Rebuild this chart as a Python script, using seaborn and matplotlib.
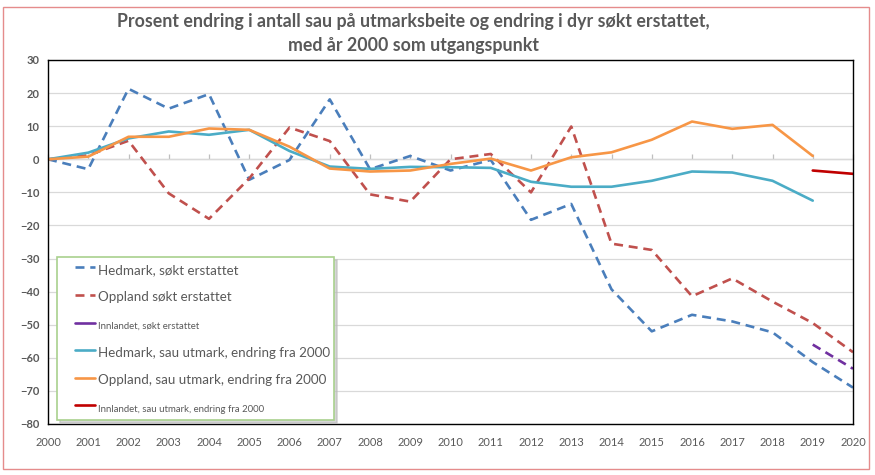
import matplotlib
matplotlib.use("Agg")
import matplotlib.pyplot as plt
import seaborn as sns
import pandas as pd
import numpy as np
from matplotlib.lines import Line2D
from matplotlib.legend_handler import HandlerLine2D
from matplotlib.patches import Rectangle

years = list(range(2000, 2021))

hedmark_sokt = [0, -3, 21.3, 15.3, 19.7, -6.2, -0.2, 18.1, -3, 1, -3.4, -0.2,
                -18.3, -13.5, -39.3, -52, -47, -49, -52.3, -61.3, -69]
oppland_sokt = [0, 1.2, 5.6, -10.3, -18, -5.8, 9.6, 5.5, -10.6, -12.8, 0, 1.6,
                -10, 9.9, -25.5, -27.4, -41.4, -36, -43, -49.5, -58.3]
innlandet_sokt = [np.nan] * 19 + [-56, -63.3]
hedmark_sau = [0, 2, 6.3, 8.4, 7.4, 8.9, 2.5, -2.2, -2.9, -2.3, -2.4, -2.6,
               -6.8, -8.3, -8.3, -6.5, -3.7, -4, -6.5, -12.5, np.nan]
oppland_sau = [0, 0.8, 6.8, 6.8, 9.3, 8.9, 3.8, -2.8, -3.7, -3.4, -1.4, 0.2,
               -3.4, 0.6, 2.1, 5.9, 11.4, 9.2, 10.4, 1, np.nan]
innlandet_sau = [np.nan] * 19 + [-3.4, -4.4]

labels = ["Hedmark, søkt erstattet", "Oppland søkt erstattet", "Innlandet, søkt erstattet",
          "Hedmark, sau utmark, endring fra 2000", "Oppland, sau utmark, endring fra 2000",
          "Innlandet, sau utmark, endring fra 2000"]
values = [hedmark_sokt, oppland_sokt, innlandet_sokt, hedmark_sau, oppland_sau, innlandet_sau]
colors = ["#4A7EBB", "#C0504D", "#7030A0", "#4BACC6", "#F79646", "#C00000"]
dashed = [True, True, True, False, False, False]
legend_dashed = [True, True, False, False, False, False]
legend_sizes = [9.6, 9.6, 6.9, 9.6, 9.6, 6.9]

rows = []
for lab, vals in zip(labels, values):
    for y, v in zip(years, vals):
        rows.append({"series": lab, "year": y, "value": v})
df = pd.DataFrame(rows)

sns.set_style("white")
plt.rcParams['font.family'] = ['Lato', 'DejaVu Sans']

fig = plt.figure(figsize=(8.75, 4.75), dpi=100)
ax = fig.add_axes([48/875, 1-424/475, 805/875, 364/475])

grey = "#595959"
dash = (0, (3.4, 2.2))
for lab, col, d in zip(labels, colors, dashed):
    sub = df[df.series == lab].dropna()
    sns.lineplot(data=sub, x="year", y="value", ax=ax, color=col, linewidth=1.9,
                 linestyle=dash if d else "-", legend=False)

ax.set_xlim(2000, 2020)
ax.set_ylim(-80, 30)
ax.set_yticks(range(-80, 31, 10))
ax.set_xticks(years)
ax.set_xticklabels([str(y) for y in years])
ax.set_xlabel("")
ax.set_ylabel("")
ax.yaxis.grid(True, color="#D9D9D9", linewidth=0.9)
ax.xaxis.grid(False)
ax.set_axisbelow(True)
ax.tick_params(axis="both", length=0, colors=grey)
ax.tick_params(axis="x", labelsize=8, pad=9)
ax.tick_params(axis="y", labelsize=8, pad=6)
for t in ax.get_yticklabels():
    t.set_fontweight("bold")
for s in ax.spines.values():
    s.set_color("black")
    s.set_linewidth(1.0)
    s.set_visible(True)

# category axis crossing at zero
sec = ax.secondary_xaxis(0, transform=ax.transData)
sec.set_xticks(years)
sec.tick_params(axis="x", direction="in", length=3.5, color="#BFBFBF", width=0.9,
                labelbottom=False, labeltop=False)
for s in sec.spines.values():
    s.set_color("#BFBFBF")
    s.set_linewidth(0.9)

# legend
handles = []
for col, ld in zip(colors, legend_dashed):
    handles.append(Line2D([], [], color=col, linewidth=1.9,
                          linestyle=dash if ld else "-"))
fs = 9.6 * 100 / 72
leg = ax.legend(handles, labels, loc="upper left",
                bbox_to_anchor=((57-48)/805, (424-257)/364), borderaxespad=0,
                prop={"size": 9.6}, handlelength=34/fs, handleheight=1.6,
                handletextpad=0.25, labelspacing=0.78, borderpad=0.3,
                frameon=True, fancybox=False,
                shadow={"color": "#BBBBBB", "alpha": 0.6},
                handler_map={Line2D: HandlerLine2D(xpad=14/fs)})
leg.get_frame().set_edgecolor("#A9D18E")
leg.get_frame().set_linewidth(1.2)
for t, sz in zip(leg.get_texts(), legend_sizes):
    t.set_fontsize(sz)
    t.set_color(grey)

fig.text(413/875, 1-22/475, "Prosent endring i antall sau på utmarksbeite og endring i dyr søkt erstattet,",
         ha="center", va="center", fontsize=12.8, fontweight="bold", color=grey)
fig.text(413/875, 1-46/475, "med år 2000 som utgangspunkt",
         ha="center", va="center", fontsize=12.8, fontweight="bold", color=grey)

fig.patches.append(Rectangle((3/875, 1-469/475), 866/875, 462/475, transform=fig.transFigure,
                             fill=False, edgecolor="#E58C8C", linewidth=1.0))

fig.savefig("out.png", dpi=100)
